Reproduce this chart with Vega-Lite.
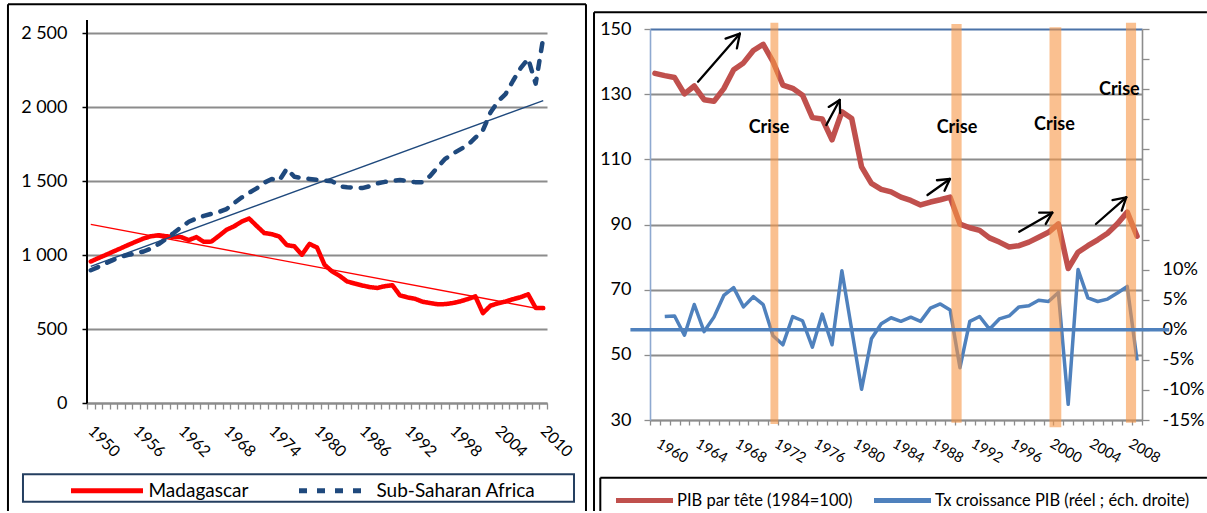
{
  "$schema": "https://vega.github.io/schema/vega-lite/v6.json",
  "background": "white",
  "padding": {"left": 6, "top": 3, "right": 0, "bottom": 0},
  "config": {
    "font": "Lato",
    "view": {"stroke": null},
    "axis": {"labelFont": "Lato", "labelColor": "#000000", "title": null, "labelOverlap": false, "labelBound": false, "labelFlush": false},
    "legend": {"labelFont": "Lato", "labelColor": "#000000"}
  },
  "spacing": 103,
  "bounds": "flush",
  "resolve": {"scale": {"color": "independent", "strokeDash": "independent"}},
  "datasets": {
    "left": [
      {"year":1950,"series":"Madagascar","value":957},{"year":1951,"series":"Madagascar","value":980},{"year":1952,"series":"Madagascar","value":1002},{"year":1953,"series":"Madagascar","value":1025},{"year":1954,"series":"Madagascar","value":1047},{"year":1955,"series":"Madagascar","value":1070},{"year":1956,"series":"Madagascar","value":1092},{"year":1957,"series":"Madagascar","value":1113},{"year":1958,"series":"Madagascar","value":1128},{"year":1959,"series":"Madagascar","value":1135},{"year":1960,"series":"Madagascar","value":1128},{"year":1961,"series":"Madagascar","value":1124},{"year":1962,"series":"Madagascar","value":1122},{"year":1963,"series":"Madagascar","value":1102},{"year":1964,"series":"Madagascar","value":1122},{"year":1965,"series":"Madagascar","value":1090},{"year":1966,"series":"Madagascar","value":1092},{"year":1967,"series":"Madagascar","value":1131},{"year":1968,"series":"Madagascar","value":1172},{"year":1969,"series":"Madagascar","value":1195},{"year":1970,"series":"Madagascar","value":1227},{"year":1971,"series":"Madagascar","value":1248},{"year":1972,"series":"Madagascar","value":1198},{"year":1973,"series":"Madagascar","value":1150},{"year":1974,"series":"Madagascar","value":1142},{"year":1975,"series":"Madagascar","value":1126},{"year":1976,"series":"Madagascar","value":1068},{"year":1977,"series":"Madagascar","value":1060},{"year":1978,"series":"Madagascar","value":1003},{"year":1979,"series":"Madagascar","value":1076},{"year":1980,"series":"Madagascar","value":1052},{"year":1981,"series":"Madagascar","value":935},{"year":1982,"series":"Madagascar","value":890},{"year":1983,"series":"Madagascar","value":860},{"year":1984,"series":"Madagascar","value":822},{"year":1985,"series":"Madagascar","value":808},{"year":1986,"series":"Madagascar","value":795},{"year":1987,"series":"Madagascar","value":784},{"year":1988,"series":"Madagascar","value":778},{"year":1989,"series":"Madagascar","value":790},{"year":1990,"series":"Madagascar","value":797},{"year":1991,"series":"Madagascar","value":728},{"year":1992,"series":"Madagascar","value":714},{"year":1993,"series":"Madagascar","value":705},{"year":1994,"series":"Madagascar","value":685},{"year":1995,"series":"Madagascar","value":676},{"year":1996,"series":"Madagascar","value":668},{"year":1997,"series":"Madagascar","value":669},{"year":1998,"series":"Madagascar","value":676},{"year":1999,"series":"Madagascar","value":687},{"year":2000,"series":"Madagascar","value":703},{"year":2001,"series":"Madagascar","value":721},{"year":2002,"series":"Madagascar","value":608},{"year":2003,"series":"Madagascar","value":658},{"year":2004,"series":"Madagascar","value":674},{"year":2005,"series":"Madagascar","value":686},{"year":2006,"series":"Madagascar","value":702},{"year":2007,"series":"Madagascar","value":716},{"year":2008,"series":"Madagascar","value":735},{"year":2009,"series":"Madagascar","value":643},{"year":2010,"series":"Madagascar","value":642},
      {"year":1950,"series":"Sub-Saharan Africa","value":898},{"year":1951,"series":"Sub-Saharan Africa","value":920},{"year":1952,"series":"Sub-Saharan Africa","value":945},{"year":1953,"series":"Sub-Saharan Africa","value":968},{"year":1954,"series":"Sub-Saharan Africa","value":990},{"year":1955,"series":"Sub-Saharan Africa","value":1002},{"year":1956,"series":"Sub-Saharan Africa","value":1012},{"year":1957,"series":"Sub-Saharan Africa","value":1025},{"year":1958,"series":"Sub-Saharan Africa","value":1045},{"year":1959,"series":"Sub-Saharan Africa","value":1075},{"year":1960,"series":"Sub-Saharan Africa","value":1112},{"year":1961,"series":"Sub-Saharan Africa","value":1150},{"year":1962,"series":"Sub-Saharan Africa","value":1190},{"year":1963,"series":"Sub-Saharan Africa","value":1226},{"year":1964,"series":"Sub-Saharan Africa","value":1248},{"year":1965,"series":"Sub-Saharan Africa","value":1266},{"year":1966,"series":"Sub-Saharan Africa","value":1280},{"year":1967,"series":"Sub-Saharan Africa","value":1292},{"year":1968,"series":"Sub-Saharan Africa","value":1312},{"year":1969,"series":"Sub-Saharan Africa","value":1352},{"year":1970,"series":"Sub-Saharan Africa","value":1390},{"year":1971,"series":"Sub-Saharan Africa","value":1422},{"year":1972,"series":"Sub-Saharan Africa","value":1452},{"year":1973,"series":"Sub-Saharan Africa","value":1490},{"year":1974,"series":"Sub-Saharan Africa","value":1515},{"year":1975,"series":"Sub-Saharan Africa","value":1505},{"year":1976,"series":"Sub-Saharan Africa","value":1585},{"year":1977,"series":"Sub-Saharan Africa","value":1530},{"year":1978,"series":"Sub-Saharan Africa","value":1522},{"year":1979,"series":"Sub-Saharan Africa","value":1516},{"year":1980,"series":"Sub-Saharan Africa","value":1510},{"year":1981,"series":"Sub-Saharan Africa","value":1505},{"year":1982,"series":"Sub-Saharan Africa","value":1500},{"year":1983,"series":"Sub-Saharan Africa","value":1466},{"year":1984,"series":"Sub-Saharan Africa","value":1460},{"year":1985,"series":"Sub-Saharan Africa","value":1457},{"year":1986,"series":"Sub-Saharan Africa","value":1454},{"year":1987,"series":"Sub-Saharan Africa","value":1467},{"year":1988,"series":"Sub-Saharan Africa","value":1486},{"year":1989,"series":"Sub-Saharan Africa","value":1496},{"year":1990,"series":"Sub-Saharan Africa","value":1503},{"year":1991,"series":"Sub-Saharan Africa","value":1508},{"year":1992,"series":"Sub-Saharan Africa","value":1502},{"year":1993,"series":"Sub-Saharan Africa","value":1494},{"year":1994,"series":"Sub-Saharan Africa","value":1493},{"year":1995,"series":"Sub-Saharan Africa","value":1536},{"year":1996,"series":"Sub-Saharan Africa","value":1595},{"year":1997,"series":"Sub-Saharan Africa","value":1652},{"year":1998,"series":"Sub-Saharan Africa","value":1686},{"year":1999,"series":"Sub-Saharan Africa","value":1716},{"year":2000,"series":"Sub-Saharan Africa","value":1745},{"year":2001,"series":"Sub-Saharan Africa","value":1795},{"year":2002,"series":"Sub-Saharan Africa","value":1845},{"year":2003,"series":"Sub-Saharan Africa","value":1965},{"year":2004,"series":"Sub-Saharan Africa","value":2040},{"year":2005,"series":"Sub-Saharan Africa","value":2090},{"year":2006,"series":"Sub-Saharan Africa","value":2180},{"year":2007,"series":"Sub-Saharan Africa","value":2265},{"year":2008,"series":"Sub-Saharan Africa","value":2330},{"year":2009,"series":"Sub-Saharan Africa","value":2160},{"year":2010,"series":"Sub-Saharan Africa","value":2470}
    ],
    "right": [
      {"year":1960,"pib":136.4,"growth":null},{"year":1961,"pib":135.7,"growth":2.2},{"year":1962,"pib":135.1,"growth":2.3},{"year":1963,"pib":130.1,"growth":-0.9},{"year":1964,"pib":132.5,"growth":4.2},{"year":1965,"pib":128.3,"growth":-0.3},{"year":1966,"pib":127.8,"growth":2.1},{"year":1967,"pib":131.7,"growth":5.7},{"year":1968,"pib":137.5,"growth":7.0},{"year":1969,"pib":139.6,"growth":3.8},{"year":1970,"pib":143.4,"growth":5.5},{"year":1971,"pib":145.3,"growth":4.2},{"year":1972,"pib":140.0,"growth":-1.0},{"year":1973,"pib":132.8,"growth":-2.5},{"year":1974,"pib":131.8,"growth":2.2},{"year":1975,"pib":129.7,"growth":1.5},{"year":1976,"pib":122.8,"growth":-2.9},{"year":1977,"pib":122.4,"growth":2.6},{"year":1978,"pib":116.0,"growth":-2.5},{"year":1979,"pib":124.6,"growth":9.8},{"year":1980,"pib":122.5,"growth":0.0},{"year":1981,"pib":107.7,"growth":-9.9},{"year":1982,"pib":102.6,"growth":-1.5},{"year":1983,"pib":100.8,"growth":1.0},{"year":1984,"pib":100.0,"growth":2.0},{"year":1985,"pib":98.4,"growth":1.4},{"year":1986,"pib":97.4,"growth":2.1},{"year":1987,"pib":96.0,"growth":1.4},{"year":1988,"pib":96.9,"growth":3.6},{"year":1989,"pib":97.6,"growth":4.3},{"year":1990,"pib":98.4,"growth":3.3},{"year":1991,"pib":90.1,"growth":-6.3},{"year":1992,"pib":89.0,"growth":1.4},{"year":1993,"pib":88.2,"growth":2.2},{"year":1994,"pib":85.9,"growth":0.1},{"year":1995,"pib":84.6,"growth":1.8},{"year":1996,"pib":83.1,"growth":2.3},{"year":1997,"pib":83.5,"growth":3.8},{"year":1998,"pib":84.6,"growth":4.0},{"year":1999,"pib":86.1,"growth":4.9},{"year":2000,"pib":87.6,"growth":4.7},{"year":2001,"pib":90.2,"growth":6.2},{"year":2002,"pib":76.5,"growth":-12.4},{"year":2003,"pib":81.5,"growth":10.0},{"year":2004,"pib":83.5,"growth":5.3},{"year":2005,"pib":85.3,"growth":4.7},{"year":2006,"pib":87.3,"growth":5.1},{"year":2007,"pib":90.2,"growth":6.1},{"year":2008,"pib":93.8,"growth":7.2},{"year":2009,"pib":86.4,"growth":-5.1}
    ],
    "bands": [
      {"start":1971.74,"end":1972.54,"top":51.05,"bottom":-15.66},
      {"start":1990.13,"end":1991.17,"top":50.83,"bottom":-15.45},
      {"start":2000.1,"end":2001.3,"top":50.28,"bottom":-16.21},
      {"start":2007.87,"end":2008.9,"top":51.05,"bottom":-15.45}
    ],
    "crises": [
      {"year":1971.6,"value":119.5,"label":"Crise"},
      {"year":1990.7,"value":119.5,"label":"Crise"},
      {"year":2000.6,"value":120.5,"label":"Crise"},
      {"year":2007.2,"value":131.3,"label":"Crise"}
    ],
    "arrows": [
      {"x1":1964.38,"y1":133.83,"x2":1968.63,"y2":148.56},
      {"x1":1967.18,"y1":147.05,"x2":1968.63,"y2":148.56},
      {"x1":1968.33,"y1":144.05,"x2":1968.63,"y2":148.56},
      {"x1":1977.42,"y1":120.54,"x2":1978.78,"y2":128.21},
      {"x1":1977.66,"y1":126.09,"x2":1978.78,"y2":128.21},
      {"x1":1978.82,"y1":124.22,"x2":1978.78,"y2":128.21},
      {"x1":1987.70,"y1":99.05,"x2":1989.98,"y2":103.96},
      {"x1":1988.66,"y1":103.58,"x2":1989.98,"y2":103.96},
      {"x1":1989.43,"y1":100.34,"x2":1989.98,"y2":103.96},
      {"x1":1997.02,"y1":87.79,"x2":2000.38,"y2":93.62},
      {"x1":1999.05,"y1":93.62,"x2":2000.38,"y2":93.62},
      {"x1":1999.72,"y1":90.17,"x2":2000.38,"y2":93.62},
      {"x1":2004.82,"y1":90.15,"x2":2007.90,"y2":98.35},
      {"x1":2006.50,"y1":97.49,"x2":2007.90,"y2":98.35},
      {"x1":2007.44,"y1":94.27,"x2":2007.90,"y2":98.35}
    ]
  },
  "hconcat": [
    {
      "width": 460,
      "height": 374,
      "layer": [
        {
          "data": {"name": "left"},
          "mark": {"type": "line", "strokeWidth": 4.5, "strokeCap": "round", "strokeJoin": "round"},
          "encoding": {
            "x": {
              "field": "year", "type": "quantitative",
              "scale": {"domain": [1949.5, 2010.5], "nice": false, "zero": false},
              "axis": {
                "values": [1949.5,1950.5,1951.5,1952.5,1953.5,1954.5,1955.5,1956.5,1957.5,1958.5,1959.5,1960.5,1961.5,1962.5,1963.5,1964.5,1965.5,1966.5,1967.5,1968.5,1969.5,1970.5,1971.5,1972.5,1973.5,1974.5,1975.5,1976.5,1977.5,1978.5,1979.5,1980.5,1981.5,1982.5,1983.5,1984.5,1985.5,1986.5,1987.5,1988.5,1989.5,1990.5,1991.5,1992.5,1993.5,1994.5,1995.5,1996.5,1997.5,1998.5,1999.5,2000.5,2001.5,2002.5,2003.5,2004.5,2005.5,2006.5,2007.5,2008.5,2009.5,2010.5],
                "tickCount": 200,
                "labelExpr": "(datum.value - 1949.5) % 6 === 0 ? '' + (datum.value + 0.5) : ''",
                "labelAngle": 45, "labelAlign": "center", "labelBaseline": "middle",
                "labelOffset": 16.5, "labelPadding": 32, "labelFontSize": 16,
                "labelFlush": false, "labelOverlap": false, "labelBound": false,
                "grid": false, "domainColor": "#8C8C8C", "domainWidth": 2,
                "tickColor": "#8C8C8C", "tickWidth": 1.3, "tickSize": 6
              }
            },
            "y": {
              "field": "value", "type": "quantitative",
              "scale": {"domain": [0, 2530], "nice": false, "zero": false},
              "axis": {
                "values": [0, 500, 1000, 1500, 2000, 2500],
                "tickCount": 50,
                "labelExpr": "replace(format(datum.value, ','), ',', ' ')",
                "grid": true, "gridColor": "#8C8C8C", "gridWidth": 2,
                "domain": false, "tickColor": "#000000", "tickSize": 5, "tickWidth": 1.5,
                "labelFontSize": 18, "labelPadding": 15
              }
            },
            "color": {
              "field": "series", "type": "nominal",
              "scale": {"domain": ["Madagascar", "Sub-Saharan Africa"], "range": ["#FF0000", "#1F497D"]},
              "legend": {"orient": "none", "legendX": -18.5, "legendY": 423, "direction": "horizontal", "columns": 2, "title": null, "symbolType": "stroke", "symbolSize": 5184, "symbolStrokeWidth": 5, "labelFontSize": 19, "columnPadding": 40, "labelOffset": 3, "padding": 0, "labelLimit": 400}
            },
            "strokeDash": {
              "field": "series", "type": "nominal",
              "scale": {"domain": ["Madagascar", "Sub-Saharan Africa"], "range": [[1, 0], [8, 10]]},
              "legend": {"orient": "none", "legendX": -18.5, "legendY": 423, "direction": "horizontal", "columns": 2, "title": null, "symbolType": "stroke", "symbolSize": 5184, "symbolStrokeWidth": 5, "labelFontSize": 19, "columnPadding": 40, "labelOffset": 3, "padding": 0, "labelLimit": 400}
            }
          }
        },
        {
          "data": {"name": "left"},
          "transform": [{"regression": "value", "on": "year", "groupby": ["series"]}],
          "mark": {"type": "line", "strokeWidth": 1.4},
          "encoding": {
            "x": {"field": "year", "type": "quantitative", "scale": {"domain": [1949.5, 2010.5], "nice": false, "zero": false}},
            "y": {"field": "value", "type": "quantitative", "scale": {"domain": [0, 2530], "nice": false, "zero": false}},
            "color": {"field": "series", "type": "nominal"}
          }
        },
        {
          "data": {"values": [{}]},
          "mark": {"type": "rule", "color": "#000000", "strokeWidth": 2},
          "encoding": {"x": {"datum": 1949.5}, "y": {"datum": 0}, "y2": {"datum": 2591}}
        },
        {
          "data": {"values": [{}]},
          "mark": {"type": "rule", "color": "#000000", "strokeWidth": 2},
          "encoding": {"x": {"datum": 1939.02}, "y": {"datum": 2697}, "y2": {"datum": -730}}
        },
        {
          "data": {"values": [{}]},
          "mark": {"type": "rule", "color": "#000000", "strokeWidth": 2},
          "encoding": {"x": {"datum": 2015.67}, "y": {"datum": 2697}, "y2": {"datum": -730}}
        },
        {
          "data": {"values": [{}]},
          "mark": {"type": "rule", "color": "#000000", "strokeWidth": 2},
          "encoding": {"x": {"datum": 1939.02}, "x2": {"datum": 2015.67}, "y": {"datum": 2697}}
        },
        {
          "data": {"values": [{}]},
          "mark": {"type": "rect", "fill": "white", "fillOpacity": 0, "stroke": "#243F60", "strokeWidth": 2},
          "encoding": {"x": {"datum": 1941.01}, "x2": {"datum": 2014.08}, "y": {"datum": -482.3}, "y2": {"datum": -667.7}}
        }
      ]
    },
    {
      "width": 492,
      "height": 391,
      "resolve": {"scale": {"y": "independent"}},
      "layer": [
        {
          "data": {"name": "right"},
          "mark": {"type": "line", "strokeWidth": 5.5, "strokeJoin": "round", "strokeCap": "round"},
          "encoding": {
            "x": {
              "field": "year", "type": "quantitative",
              "scale": {"domain": [1959.5, 2009.5], "nice": false, "zero": false},
              "axis": {
                "values": [1959.5,1960.5,1961.5,1962.5,1963.5,1964.5,1965.5,1966.5,1967.5,1968.5,1969.5,1970.5,1971.5,1972.5,1973.5,1974.5,1975.5,1976.5,1977.5,1978.5,1979.5,1980.5,1981.5,1982.5,1983.5,1984.5,1985.5,1986.5,1987.5,1988.5,1989.5,1990.5,1991.5,1992.5,1993.5,1994.5,1995.5,1996.5,1997.5,1998.5,1999.5,2000.5,2001.5,2002.5,2003.5,2004.5,2005.5,2006.5,2007.5,2008.5,2009.5],
                "tickCount": 200,
                "labelExpr": "(datum.value - 1959.5) % 4 === 0 ? '' + (datum.value + 0.5) : ''",
                "labelAngle": 30, "labelAlign": "center", "labelBaseline": "middle",
                "labelOffset": 21.5, "labelPadding": 26, "labelFontSize": 14.5,
                "labelFlush": false, "labelOverlap": false, "labelBound": false,
                "grid": false, "domainColor": "#8C8C8C", "domainWidth": 1.6,
                "tickColor": "#8C8C8C", "tickWidth": 1.3, "tickSize": 5
              }
            },
            "y": {
              "field": "pib", "type": "quantitative",
              "scale": {"domain": [30, 150], "nice": false, "zero": false},
              "axis": {
                "orient": "left",
                "values": [30, 50, 70, 90, 110, 130, 150],
                "tickCount": 50,
                "grid": true,
                "gridColor": {"condition": {"test": "datum.value === 150", "value": "#4A72A8"}, "value": "#8C8C8C"},
                "gridWidth": 1.8,
                "domainColor": "#8EA9D0", "domainWidth": 1.6,
                "tickColor": "#8C8C8C", "tickSize": 6, "tickWidth": 1.3,
                "labelFontSize": 18, "labelPadding": 13
              }
            },
            "color": {
              "datum": "PIB par tête (1984=100)", "type": "nominal",
              "scale": {"domain": ["PIB par tête (1984=100)", "Tx croissance PIB (réel ; éch. droite)"], "range": ["#C0504D", "#4F81BD"]},
              "legend": {"orient": "none", "legendX": -36.5, "legendY": 440.5, "direction": "horizontal", "columns": 2, "title": null, "symbolType": "stroke", "symbolSize": 3249, "symbolStrokeWidth": 5, "labelFontSize": 16.5, "columnPadding": 10, "labelOffset": 1.5, "padding": 0, "labelLimit": 500}
            }
          }
        },
        {
          "layer": [
            {
              "data": {"name": "right"},
              "mark": {"type": "line", "strokeWidth": 3.5, "strokeJoin": "round"},
              "encoding": {
                "x": {"field": "year", "type": "quantitative", "scale": {"domain": [1959.5, 2009.5], "nice": false, "zero": false}},
                "y": {
                  "field": "growth", "type": "quantitative",
                  "scale": {"domain": [-15, 50], "nice": false, "zero": false},
                  "axis": {
                    "orient": "right",
                    "values": [-15, -10, -5, 0, 5, 10, 15, 20, 25, 30, 35, 40, 45, 50],
                    "tickCount": 100,
                    "labelExpr": "datum.value <= 10 ? datum.value + '%' : ''",
                    "labelOverlap": false,
                    "grid": false, "domainColor": "#8C8C8C", "domainWidth": 1.6,
                    "tickColor": "#8C8C8C", "tickSize": 7, "tickWidth": 1.3,
                    "labelFontSize": 18, "labelPadding": 13
                  }
                },
                "color": {
                  "datum": "Tx croissance PIB (réel ; éch. droite)", "type": "nominal",
                  "scale": {"domain": ["PIB par tête (1984=100)", "Tx croissance PIB (réel ; éch. droite)"], "range": ["#C0504D", "#4F81BD"]}
                }
              }
            },
            {
              "data": {"name": "bands"},
              "mark": {"type": "rect", "fill": "#F79646", "opacity": 0.6},
              "encoding": {
                "x": {"field": "start", "type": "quantitative", "scale": {"domain": [1959.5, 2009.5], "nice": false, "zero": false}},
                "x2": {"field": "end"},
                "y": {"field": "top", "type": "quantitative", "scale": {"domain": [-15, 50], "nice": false, "zero": false}},
                "y2": {"field": "bottom"}
              }
            },
            {
              "data": {"values": [{}]},
              "mark": {"type": "rule", "color": "#4F81BD", "strokeWidth": 3.5},
              "encoding": {"x": {"datum": 1957.51}, "x2": {"datum": 2012.27}, "y": {"datum": 0, "scale": {"domain": [-15, 50], "nice": false, "zero": false}}}
            }
          ]
        },
        {
          "layer": [
            {
              "data": {"name": "crises"},
              "mark": {"type": "text", "font": "Lato", "fontWeight": "bold", "fontSize": 18, "color": "#000000", "align": "center", "baseline": "middle"},
              "encoding": {
                "x": {"field": "year", "type": "quantitative", "scale": {"domain": [1959.5, 2009.5], "nice": false, "zero": false}},
                "y": {"field": "value", "type": "quantitative", "scale": {"domain": [30, 150], "nice": false, "zero": false}, "axis": null},
                "text": {"field": "label"}
              }
            },
            {
              "data": {"name": "arrows"},
              "mark": {"type": "rule", "color": "#000000", "strokeWidth": 2.3, "strokeCap": "round"},
              "encoding": {
                "x": {"field": "x1", "type": "quantitative", "scale": {"domain": [1959.5, 2009.5], "nice": false, "zero": false}},
                "y": {"field": "y1", "type": "quantitative", "scale": {"domain": [30, 150], "nice": false, "zero": false}, "axis": null},
                "x2": {"field": "x2"},
                "y2": {"field": "y2"}
              }
            },
            {
              "data": {"values": [{}]},
              "mark": {"type": "rule", "color": "#000000", "strokeWidth": 2},
              "encoding": {"x": {"datum": 1953.81}, "y": {"datum": 155.12, "axis": null}, "y2": {"datum": 2.07}}
            },
            {
              "data": {"values": [{}]},
              "mark": {"type": "rule", "color": "#000000", "strokeWidth": 2},
              "encoding": {"x": {"datum": 1953.81}, "x2": {"datum": 2016.1}, "y": {"datum": 155.12, "axis": null}}
            },
            {
              "data": {"values": [{}]},
              "mark": {"type": "rule", "color": "#000000", "strokeWidth": 2},
              "encoding": {"x": {"datum": 1954.45}, "y": {"datum": 12.29, "axis": null}, "y2": {"datum": 2.07}}
            },
            {
              "data": {"values": [{}]},
              "mark": {"type": "rule", "color": "#000000", "strokeWidth": 2},
              "encoding": {"x": {"datum": 1954.45}, "x2": {"datum": 2016.1}, "y": {"datum": 12.29, "axis": null}}
            }
          ]
        }
      ]
    }
  ]
}
